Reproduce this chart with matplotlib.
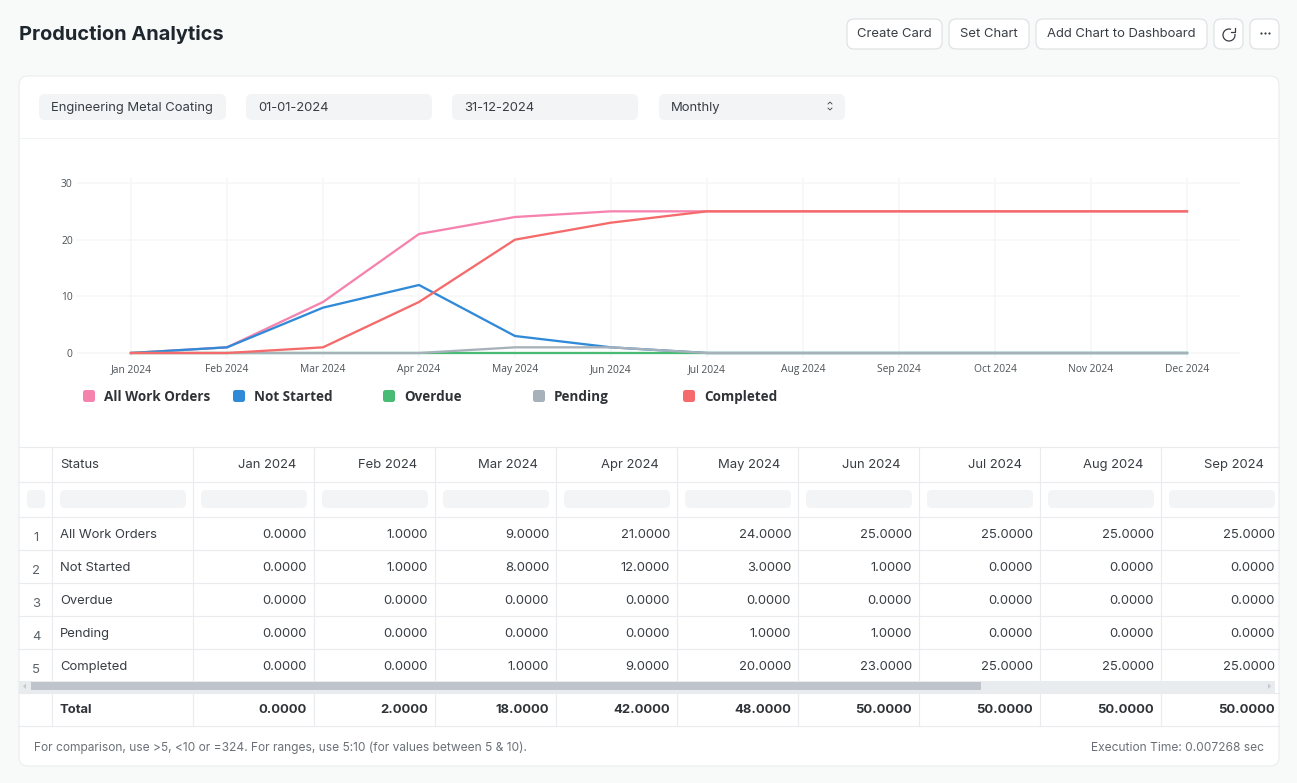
import matplotlib
matplotlib.use("Agg")
import matplotlib.pyplot as plt
from matplotlib.patches import FancyBboxPatch, Rectangle, Arc, Polygon

W, H = 1297, 783
plt.rcParams['font.family'] = ['Inter', 'DejaVu Sans']

months = ['Jan 2024', 'Feb 2024', 'Mar 2024', 'Apr 2024', 'May 2024', 'Jun 2024',
          'Jul 2024', 'Aug 2024', 'Sep 2024', 'Oct 2024', 'Nov 2024', 'Dec 2024']
series_names = ['All Work Orders', 'Not Started', 'Overdue', 'Pending', 'Completed']
all_orders = [0, 1, 9, 21, 24, 25, 25, 25, 25, 25, 25, 25]
not_started = [0, 1, 8, 12, 3, 1, 0, 0, 0, 0, 0, 0]
overdue = [0, 0, 0, 0, 0, 0, 0, 0, 0, 0, 0, 0]
pending = [0, 0, 0, 0, 1, 1, 0, 0, 0, 0, 0, 0]
completed = [0, 0, 1, 9, 20, 23, 25, 25, 25, 25, 25, 25]
totals = [0, 2, 18, 42, 48, 50, 50, 50, 50]
colors = ['#f683ae', '#318ad8', '#48bb74', '#a6b1b9', '#f56b6b']
y_ticks = [0, 10, 20, 30]

buttons = ['Create Card', 'Set Chart', 'Add Chart to Dashboard']
filters = ['Engineering Metal Coating', '01-01-2024', '31-12-2024', 'Monthly']

TEXT = '#383d44'
BORDER = '#e9ebee'
FIELD = '#f3f4f6'


def px(n):
    return n * 72 / 100


fig = plt.figure(figsize=(W / 100, H / 100), dpi=100, facecolor='#f8f9f9')
bg = fig.add_axes([0, 0, 1, 1])
bg.set_xlim(0, W)
bg.set_ylim(H, 0)
bg.axis('off')


def box(x0, y0, x1, y1, r=6, fc='white', ec='none', lw=0, z=1):
    p = FancyBboxPatch((x0 + r, y0 + r), x1 - x0 - 2 * r, y1 - y0 - 2 * r,
                       boxstyle='round,pad=%g,rounding_size=%g' % (r, r),
                       fc=fc, ec=ec, lw=lw, zorder=z)
    bg.add_patch(p)


def label(x, y, s, size=13, weight='normal', ha='left', color=TEXT, family=None, z=5):
    # y is the middle of the line, baseline sits a fixed share of the size below it
    bg.text(x, y + size * 0.35, s, fontsize=px(size), fontweight=weight, ha=ha, va='baseline',
            color=color, family=family or ['Inter', 'DejaVu Sans'], zorder=z)


# page header
label(19, 32.5, 'Production Analytics', size=20, weight='bold', color='#1f272e')
for (x0, x1), s in zip([(847, 942), (949, 1029), (1036, 1207)], buttons):
    box(x0, 19, x1, 49, r=7, ec='#dcdfe3', lw=0.8)
    label((x0 + x1) / 2, 32.5, s, ha='center')
box(1214, 19, 1243, 49, r=7, ec='#dcdfe3', lw=0.8)
box(1250, 19, 1279, 49, r=7, ec='#dcdfe3', lw=0.8)
bg.add_patch(Arc((1229, 35), 12, 12, theta1=-10, theta2=290, ec=TEXT, lw=0.9, zorder=5))
bg.plot([1231, 1235, 1235], [31.5, 31.5, 28], color=TEXT, lw=0.9, zorder=5)
bg.plot([1260.5, 1264.5, 1268.5], [32.5, 32.5, 32.5], 'o', ms=1.6, mew=0, color=TEXT, zorder=5)

# card and filters
box(19, 76, 1279, 766, r=9, ec='#e8eaec', lw=0.7)
bg.plot([19, 1279], [138, 138], color='#f1f2f3', lw=0.72, zorder=2)
for (x0, x1), s in zip([(39, 226), (246, 432), (452, 638), (659, 845)], filters):
    box(x0, 94, x1, 120, r=6, fc=FIELD, z=2)
    label(x0 + 12, 106.5, s)
bg.plot([828, 830, 832], [104, 102, 104], color=TEXT, lw=0.6, zorder=5)
bg.plot([828, 830, 832], [108, 110, 108], color=TEXT, lw=0.6, zorder=5)

# line chart, Jan sits at x=131px and Dec at x=1187px, 0 at y=353px and 30 at y=183px
ax = fig.add_axes([77 / W, 1 - 358 / H, (1240 - 77) / W, 181 / H])
ax.patch.set_alpha(0)
x = list(range(len(months)))
for vals, c in zip([all_orders, not_started, overdue, pending, completed], colors):
    ax.plot(x, vals, color=c, lw=px(2.3), solid_joinstyle='round', zorder=3, clip_on=False)
ax.set_xlim((77 - 131) / 96, (1240 - 131) / 96)
ax.set_ylim(-5 * 30 / 170, 30 + 6 * 30 / 170)
ax.set_xticks(x)
ax.set_xticklabels(months, fontsize=px(10.3), color='#4c5257', family=['Open Sans', 'DejaVu Sans'])
ax.set_yticks(y_ticks)
ax.set_yticklabels(y_ticks, fontsize=px(10.3), color='#4c5257', family=['Open Sans', 'DejaVu Sans'])
ax.tick_params(length=0, pad=4.6)
ax.tick_params(axis='y', pad=3)
ax.grid(True, color='#f8f8f9', lw=px(2))
ax.set_axisbelow(True)
for s in ax.spines.values():
    s.set_visible(False)

# legend
for i, (name, c) in enumerate(zip(series_names, colors)):
    lx = 83 + 150 * i
    box(lx, 390, lx + 12, 402, r=2.5, fc=c, z=3)
    label(lx + 21, 396, name, size=13.5, weight='bold', color='#2f3338', family=['Open Sans', 'DejaVu Sans'])

# table
col_edges = [19, 52, 193, 314, 435, 556, 677, 798, 919, 1040, 1161]
rows_y = [(518, 550), (551, 583), (584, 616), (617, 649), (650, 681)]
table_rows = [all_orders, not_started, overdue, pending, completed]
RIGHT = 1275
for yy in (447, 482, 517, 550, 583, 616, 649, 693, 726):
    bg.plot([19, 1279], [yy, yy], color=BORDER, lw=0.8, zorder=2)
for cx in col_edges[1:]:
    bg.plot([cx, cx], [447, 726], color=BORDER, lw=0.8, zorder=2)

label(60, 463.5, 'Status')
box(27, 490, 45, 508, r=4, fc=FIELD, z=3)
box(60, 490, 186, 508, r=5, fc=FIELD, z=3)
for j, m in enumerate(months[:9]):
    right = min(col_edges[j + 2] + 114, RIGHT)
    label(right - 11, 463.5, m, ha='right')
    box(right - 106, 490, right, 508, r=5, fc=FIELD, z=3)
    for (y0, y1), vals in zip(rows_y, table_rows):
        label(right, (y0 + y1) / 2 - 0.5, '%.4f' % vals[j], ha='right')
    label(right, 708.5, '%.4f' % totals[j], ha='right', weight='bold', color='#2f3338')
for i, ((y0, y1), name) in enumerate(zip(rows_y, series_names)):
    label(60, (y0 + y1) / 2 - 0.5, name)
    label(36, (y0 + y1) / 2 + 2.5, str(i + 1), ha='center', color='#5b6168')
label(60, 708.5, 'Total', weight='bold', color='#2f3338')

# scrollbar
bg.add_patch(Rectangle((19, 681), 1256, 12, fc='#e9ecef', ec='none', zorder=4))
bg.add_patch(Rectangle((31, 682), 950, 8, fc='#bfc3cc', ec='none', zorder=4.5))
bg.add_patch(Polygon([[26, 683.5], [26, 689], [23, 686.2]], fc='#c4c8cf', ec='none', zorder=5))
bg.add_patch(Polygon([[1268, 683.5], [1268, 689], [1271, 686.2]], fc='#c4c8cf', ec='none', zorder=5))

# footer
label(34, 746.5, 'For comparison, use >5, <10 or =324. For ranges, use 5:10 (for values between 5 & 10).',
      size=12, color='#6b7178')
label(1264, 746.5, 'Execution Time: 0.007268 sec', size=12, ha='right', color='#6b7178')

fig.savefig('out.png', dpi=100, facecolor=fig.get_facecolor())
